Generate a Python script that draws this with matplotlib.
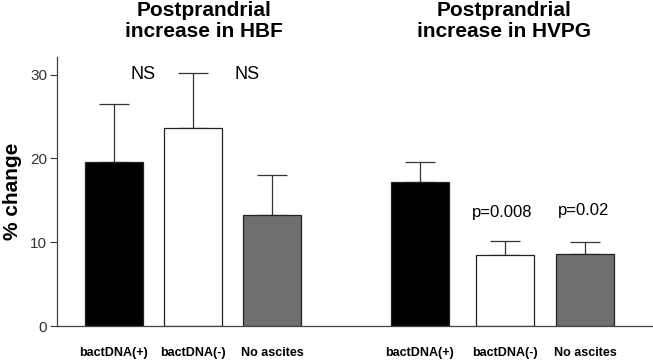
import matplotlib.pyplot as plt
import numpy as np

plt.rcParams['font.family'] = ['Liberation Sans', 'DejaVu Sans']

categories = ["bactDNA(+)", "bactDNA(-)", "No ascites"]
hbf_values = [19.6, 23.6, 13.3]
hbf_errors = [6.9, 6.6, 4.7]
hvpg_values = [17.2, 8.5, 8.6]
hvpg_errors = [2.4, 1.6, 1.4]
hbf_notes = ["NS", "NS"]
hvpg_notes = ["p=0.008", "p=0.02"]
titles = ["Postprandrial\nincrease in HBF", "Postprandrial\nincrease in HVPG"]
y_ticks = [0, 10, 20, 30]

colors = ["black", "white", "#6f6f6f"]
W, H = 653, 361
fig = plt.figure(figsize=(W / 100, H / 100), dpi=100)
ax = fig.add_axes([57 / W, 35 / H, (W - 57) / W, (326 - 57) / H])

pos1 = np.array([0, 1, 2])
pos2 = np.array([3.87, 4.95, 5.96])
bw = 0.74

for pos, vals, errs in [(pos1, hbf_values, hbf_errors), (pos2, hvpg_values, hvpg_errors)]:
    ax.bar(pos, vals, bw, color=colors, edgecolor="#222222", linewidth=0.9, zorder=2)
    ax.errorbar(pos, vals, yerr=[np.zeros(len(vals)), errs], fmt="none",
                ecolor="#333333", elinewidth=0.9, capsize=10.5, capthick=0.9, zorder=1)

ax.set_xlim(-0.72, 6.82)
ax.set_ylim(0, 32.1)
ax.set_yticks(y_ticks)
ax.tick_params(axis="y", direction="out", length=5, width=0.8, labelsize=11, pad=2,
               colors="#333333")
ax.set_xticks(list(pos1) + list(pos2))
ax.set_xticklabels(categories * 2, fontweight="bold", fontsize=9)
ax.tick_params(axis="x", length=0, pad=15)
for s in ["top", "right"]:
    ax.spines[s].set_visible(False)
for s in ["left", "bottom"]:
    ax.spines[s].set_color("#444444")
    ax.spines[s].set_linewidth(0.9)

ax.set_ylabel("% change", fontweight="bold", fontsize=15, labelpad=6)

# annotations
ax.text(0.37, 30.0, hbf_notes[0], ha="center", va="center", fontsize=13)
ax.text(1.69, 30.0, hbf_notes[1], ha="center", va="center", fontsize=13)
ax.text(4.91, 13.6, hvpg_notes[0], ha="center", va="center", fontsize=12)
ax.text(5.94, 13.8, hvpg_notes[1], ha="center", va="center", fontsize=12)

fig.text(204 / W, 1 - 21 / H, titles[0], ha="center", va="center", fontsize=15,
         fontweight="bold", linespacing=1.15)
fig.text(504 / W, 1 - 21 / H, titles[1], ha="center", va="center", fontsize=15,
         fontweight="bold", linespacing=1.15)

fig.savefig("out.png", dpi=100)
